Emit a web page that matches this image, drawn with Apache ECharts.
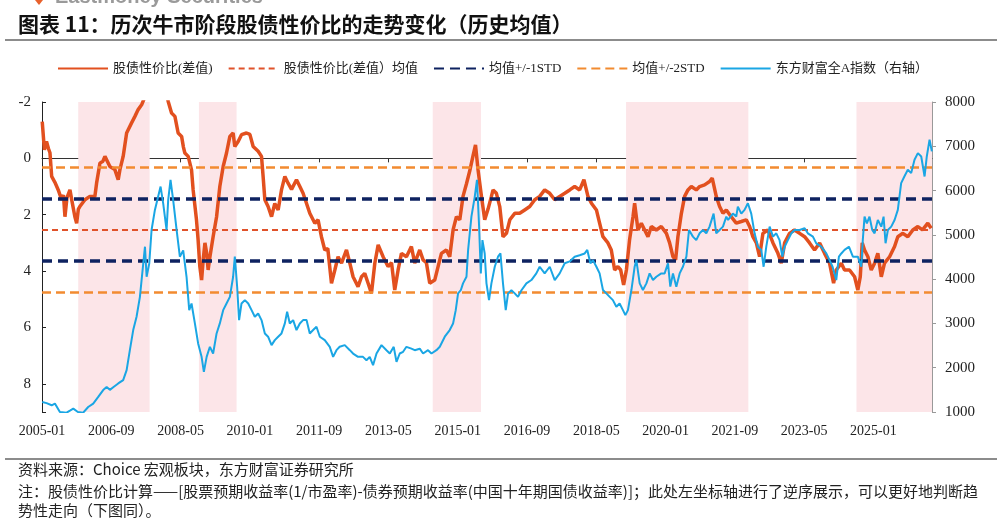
<!DOCTYPE html>
<html><head><meta charset="utf-8">
<script src="https://cdn.jsdelivr.net/npm/echarts@6/dist/echarts.min.js"></script>
<style>html,body{margin:0;padding:0;background:#fff}#c{width:997px;height:522px}</style>
</head><body><div id="c"></div>
<script>
// ---------- DATA ----------
const xTickStart = '2005-01';
const xAxisEndMonths = 256.9;           // axis extent in months from 2005-01
const leftAxisMin = -2, leftAxisMax = 9;
const rightAxisMin = 1000, rightAxisMax = 8000;

const ratioDates = ['2005-01-03','2005-01-22','2005-02-10','2005-02-27','2005-03-10','2005-03-25','2005-04-23','2005-05-22','2005-06-21','2005-07-07','2005-07-20','2005-08-07','2005-09-03','2005-09-20','2005-10-16','2005-11-01','2005-11-16','2005-11-29','2006-01-13','2006-02-26','2006-04-09','2006-04-24','2006-05-23','2006-06-19','2006-07-06','2006-07-23','2006-08-19','2006-10-02','2006-11-01','2006-11-16','2006-12-14','2007-01-14','2007-02-26','2007-03-26','2007-04-24','2007-05-24','2007-06-14','2007-08-06','2007-09-28','2007-11-20','2007-12-25','2008-01-14','2008-02-13','2008-03-12','2008-04-10','2008-05-10','2008-05-26','2008-06-08','2008-07-07','2008-08-06','2008-08-20','2008-09-19','2008-10-03','2008-10-18','2008-11-03','2008-11-17','2008-12-02','2008-12-17','2008-12-30','2009-01-15','2009-02-13','2009-03-13','2009-04-11','2009-05-10','2009-06-09','2009-07-08','2009-08-06','2009-08-21','2009-09-20','2009-10-19','2009-12-02','2010-01-01','2010-01-30','2010-03-13','2010-04-12','2010-04-26','2010-05-11','2010-06-09','2010-07-09','2010-08-07','2010-09-06','2010-10-05','2010-11-04','2010-12-02','2011-01-02','2011-02-15','2011-03-14','2011-04-12','2011-05-12','2011-06-10','2011-07-24','2011-08-22','2011-09-21','2011-10-20','2011-11-16','2011-12-18','2012-01-17','2012-02-15','2012-03-15','2012-04-28','2012-05-27','2012-06-25','2012-08-08','2012-09-08','2012-10-06','2012-11-05','2012-12-04','2013-01-03','2013-02-02','2013-03-15','2013-04-28','2013-05-28','2013-06-26','2013-07-25','2013-08-24','2013-10-07','2013-11-20','2013-12-19','2014-02-02','2014-03-01','2014-03-30','2014-04-29','2014-06-12','2014-07-11','2014-08-10','2014-09-23','2014-10-22','2014-11-21','2014-12-20','2015-01-19','2015-02-17','2015-03-17','2015-04-15','2015-05-14','2015-06-05','2015-06-27','2015-07-27','2015-08-25','2015-09-24','2015-10-23','2015-11-07','2015-12-06','2016-01-05','2016-02-03','2016-03-03','2016-04-02','2016-05-15','2016-06-28','2016-08-11','2016-09-25','2016-11-08','2016-12-21','2017-02-04','2017-03-18','2017-05-01','2017-06-14','2017-07-28','2017-09-11','2017-10-24','2017-12-07','2018-01-14','2018-02-19','2018-03-19','2018-05-02','2018-05-30','2018-06-29','2018-08-12','2018-09-11','2018-10-10','2018-11-08','2018-12-02','2018-12-28','2019-01-22','2019-02-19','2019-03-19','2019-04-03','2019-05-02','2019-06-01','2019-06-30','2019-07-29','2019-08-28','2019-10-11','2019-11-24','2020-01-08','2020-02-06','2020-03-05','2020-03-28','2020-04-18','2020-05-18','2020-06-16','2020-07-15','2020-08-14','2020-09-27','2020-10-26','2020-12-09','2021-01-22','2021-02-15','2021-03-20','2021-04-19','2021-05-18','2021-06-17','2021-07-30','2021-09-13','2021-10-27','2021-12-10','2022-01-09','2022-02-07','2022-03-07','2022-04-05','2022-05-04','2022-06-17','2022-08-01','2022-09-14','2022-10-13','2022-11-12','2022-12-25','2023-02-08','2023-03-22','2023-05-05','2023-06-18','2023-08-01','2023-09-15','2023-10-28','2023-12-11','2024-01-16','2024-02-09','2024-03-23','2024-04-21','2024-06-04','2024-07-18','2024-08-16','2024-09-07','2024-09-24','2024-10-14','2024-11-13','2024-12-12','2025-01-11','2025-02-09','2025-03-09','2025-04-07','2025-05-21','2025-07-04','2025-08-02','2025-09-16','2025-10-29','2025-12-12','2026-01-26','2026-03-06','2026-04-22','2026-05-21'];
const ratioValues = [-1.3,-0.3,-0.6,-0.35,-0.2,0.64,0.85,1.12,1.47,1.3,2.07,1.4,1.12,1.5,2.07,2.3,1.8,1.71,1.47,1.35,1.35,0.88,0.17,0.1,-0.07,-0.1,0.29,0.4,0.76,0.4,-0.07,-0.9,-1.25,-1.49,-1.73,-1.9,-2.1,-2.8,-3.2,-2.9,-2.4,-2.02,-1.61,-1.49,-0.9,-0.78,-0.4,-0.19,-0.07,0.41,1.12,2.18,2.9,3.84,4.32,3.6,3.0,3.36,3.96,3.5,2.78,2.07,1.0,0.29,-0.19,-0.78,-0.9,-0.42,-0.6,-0.84,-0.9,-0.85,-0.42,-0.25,-0.07,0.64,1.47,1.71,2.07,1.6,1.83,1.12,0.64,0.88,1.1,0.76,1.0,1.24,1.6,1.95,2.3,2.18,2.78,3.25,3.2,4.43,3.96,3.49,3.72,3.25,3.72,4.2,4.55,4.2,4.08,4.43,4.79,3.72,3.07,3.49,3.84,3.7,4.67,3.96,3.37,3.49,3.13,3.72,3.25,3.6,3.7,4.43,4.32,3.84,3.37,3.25,3.49,2.54,2.07,2.18,1.35,0.9,0.45,-0.1,-0.48,0.4,1.35,2.18,1.8,1.35,1.12,1.24,1.71,2.78,2.66,2.18,1.95,1.95,1.83,1.71,1.47,1.35,1.12,1.24,1.47,1.35,1.24,1.12,1.0,1.12,0.76,1.35,1.59,1.83,2.3,2.78,3.0,3.25,3.96,3.84,3.96,4.49,3.96,2.9,2.07,1.59,2.54,2.3,2.54,2.78,2.42,2.54,2.42,2.66,3.0,3.49,3.6,2.78,1.95,1.35,1.12,1.0,1.12,1.0,0.94,0.82,0.7,1.35,1.71,1.95,1.83,2.07,2.3,2.24,2.18,2.42,2.78,3.0,3.49,2.66,2.54,3.0,3.37,3.72,3.0,2.66,2.54,2.66,2.78,3.0,3.25,3.0,3.37,3.72,4.43,3.96,3.72,3.96,3.96,4.2,4.67,4.2,3.0,3.25,3.49,3.96,3.72,3.37,4.2,3.72,3.49,3.13,2.78,2.66,2.78,2.54,2.42,2.54,2.3,2.48];

const indexDates = ['2005-01-03','2005-02-11','2005-03-25','2005-04-23','2005-06-06','2005-08-04','2005-09-03','2005-10-02','2005-11-12','2005-12-28','2006-02-11','2006-03-25','2006-05-08','2006-06-21','2006-07-21','2006-08-19','2006-09-18','2006-11-01','2006-12-14','2007-01-14','2007-02-12','2007-03-11','2007-04-10','2007-05-09','2007-06-08','2007-06-23','2007-07-07','2007-07-30','2007-08-20','2007-09-19','2007-10-17','2007-11-08','2007-12-01','2007-12-30','2008-01-14','2008-02-04','2008-02-27','2008-03-27','2008-04-25','2008-05-24','2008-06-23','2008-07-16','2008-08-06','2008-09-05','2008-10-03','2008-11-03','2008-11-23','2008-12-17','2009-01-15','2009-02-13','2009-03-13','2009-04-11','2009-05-10','2009-06-09','2009-07-08','2009-08-06','2009-08-21','2009-09-11','2009-09-28','2009-10-19','2009-11-18','2009-12-17','2010-01-16','2010-02-14','2010-03-13','2010-04-12','2010-05-11','2010-06-09','2010-07-09','2010-08-07','2010-09-06','2010-10-05','2010-11-04','2010-11-24','2010-12-17','2011-01-16','2011-02-15','2011-03-14','2011-04-12','2011-05-12','2011-06-10','2011-07-09','2011-08-08','2011-09-07','2011-10-20','2011-12-03','2012-01-02','2012-02-01','2012-02-29','2012-04-13','2012-05-27','2012-06-25','2012-08-08','2012-09-21','2012-10-21','2012-11-19','2012-12-18','2013-01-18','2013-03-01','2013-04-14','2013-05-13','2013-06-17','2013-07-11','2013-08-09','2013-09-08','2013-10-07','2013-11-20','2013-12-19','2014-02-02','2014-03-01','2014-04-14','2014-05-14','2014-06-27','2014-07-26','2014-09-09','2014-10-22','2014-11-21','2014-12-14','2015-01-04','2015-01-28','2015-02-17','2015-03-17','2015-04-01','2015-04-30','2015-05-29','2015-06-18','2015-07-06','2015-07-21','2015-08-05','2015-08-25','2015-09-10','2015-10-02','2015-10-23','2015-11-22','2015-12-20','2016-01-11','2016-02-03','2016-02-27','2016-03-17','2016-04-16','2016-05-15','2016-06-13','2016-07-13','2016-08-26','2016-10-09','2016-11-22','2016-12-21','2017-02-04','2017-03-18','2017-05-01','2017-06-14','2017-07-28','2017-09-11','2017-10-24','2017-12-07','2018-01-21','2018-02-13','2018-03-10','2018-04-02','2018-05-02','2018-05-30','2018-06-29','2018-07-28','2018-08-27','2018-09-25','2018-10-25','2018-11-23','2018-12-22','2019-01-13','2019-02-05','2019-03-05','2019-04-03','2019-04-18','2019-05-17','2019-06-15','2019-07-15','2019-08-13','2019-09-12','2019-10-11','2019-11-24','2019-12-23','2020-01-22','2020-02-12','2020-03-05','2020-04-04','2020-05-03','2020-06-01','2020-07-01','2020-07-24','2020-08-28','2020-09-27','2020-10-26','2020-11-25','2020-12-24','2021-01-22','2021-02-27','2021-03-20','2021-04-19','2021-05-18','2021-06-17','2021-07-02','2021-08-14','2021-09-13','2021-09-27','2021-10-27','2021-11-25','2021-12-24','2022-01-23','2022-02-22','2022-03-21','2022-04-20','2022-05-10','2022-06-03','2022-07-02','2022-08-01','2022-08-30','2022-09-28','2022-10-22','2022-11-12','2022-12-10','2023-01-10','2023-02-08','2023-03-22','2023-05-05','2023-06-03','2023-07-17','2023-08-16','2023-09-29','2023-11-13','2023-12-11','2024-01-07','2024-02-09','2024-03-02','2024-03-23','2024-04-21','2024-05-29','2024-07-03','2024-08-16','2024-09-16','2024-09-29','2024-10-14','2024-11-04','2024-11-27','2024-12-21','2025-01-11','2025-02-09','2025-03-09','2025-03-29','2025-04-16','2025-05-06','2025-06-05','2025-07-04','2025-08-02','2025-09-01','2025-09-29','2025-10-29','2025-11-28','2025-12-27','2026-01-26','2026-02-25','2026-03-24','2026-04-13','2026-05-07','2026-05-27'];
const indexValues = [1227,1200,1152,1190,1000,985,1030,1077,1000,985,1113,1190,1340,1495,1566,1500,1560,1645,1720,1945,2396,2850,3150,3600,4358,4733,4054,4350,5110,5563,5864,6090,5700,5110,5790,6242,5790,5110,4507,4650,4054,3300,3450,3000,2548,2245,1905,2245,2472,2320,2774,3000,3300,3451,3600,4054,4507,3828,3075,3451,3527,3451,3300,3150,3225,3075,2774,2700,2510,2623,2700,2774,3000,3263,3000,3075,2850,3000,3075,3075,2774,2850,2925,2700,2623,2472,2245,2396,2472,2510,2396,2320,2245,2245,2170,2245,2057,2321,2510,2396,2321,2472,2132,2321,2360,2472,2430,2396,2430,2321,2396,2321,2396,2472,2700,2850,3000,3300,3679,3750,3905,4054,4660,5412,5864,6242,5200,4130,4880,4580,3905,3527,3905,4280,4507,4580,3905,3300,3679,3750,3679,3600,3750,3905,3980,4130,4280,4130,4280,3980,4130,4358,4400,4507,4540,4580,4660,4358,4430,4280,4130,3754,3679,3600,3527,3376,3451,3300,3188,3300,3754,4280,4430,3905,3754,3905,4130,3980,4054,4130,4130,4358,3830,4130,3830,4130,4280,4507,5110,4960,4880,5035,5110,5035,5185,5480,5035,5110,5185,5412,5337,5480,5412,5638,5480,5563,5714,5480,5035,4733,4660,4280,4733,5185,4960,5035,4880,4507,4733,4880,5035,5110,5110,5150,5035,4960,4807,4733,4580,4430,4280,3980,4507,4580,4660,4733,4507,4507,4280,4880,5412,5260,5412,5110,5035,5337,5185,5412,4810,5110,5185,5337,5563,6167,6318,6469,6394,6695,6846,6770,6318,6770,7150,6885];

const meanLevel = 2.54;
const std1Levels = [1.44, 3.65];
const std2Levels = [0.32, 4.75];

const bullStarts = ['2005-11-15','2008-10-10','2014-05-25','2019-01-19','2024-08-04'];
const bullEnds   = ['2007-08-03','2009-09-06','2015-07-23','2021-12-28', null];

const seriesNames = ['股债性价比(差值)','股债性价比(差值）均值','均值+/-1STD','均值+/-2STD','东方财富全A指数（右轴）'];

// ---------- HELPERS ----------
const [y0, m0] = xTickStart.split('-').map(Number);
function toMonth(s){ const p = s.split('-').map(Number); return (p[0]-y0)*12 + (p[1]-m0) + (p[2]-1)/30.4; }
function monthLabel(v){ const tot = Math.round(v) + (m0-1); const y = y0 + Math.floor(tot/12); const m = tot%12 + 1; return y + '-' + (m<10?'0':'') + m; }

const ratioData = ratioDates.map((d,i)=>[toMonth(d), ratioValues[i]]);
const indexData = indexDates.map((d,i)=>[toMonth(d), indexValues[i]]);
const bullAreas = bullStarts.map((s,i)=>[{xAxis: toMonth(s)}, {xAxis: bullEnds[i] ? toMonth(bullEnds[i]) : xAxisEndMonths}]);

const C_RED = '#E2501F', C_MEAN = '#E0522A', C_NAVY = '#0E2260', C_ORANGE = '#F28B30', C_BLUE = '#1AA6E4';
const SERIF = "'Liberation Serif','Times New Roman','Noto Sans CJK SC'";

const chart = echarts.init(document.getElementById('c'), null, {renderer:'canvas'});
chart.setOption({
  backgroundColor: '#fff',
  animation: false,
  grid: { left: 42, right: 65, top: 102, bottom: 110, containLabel: false },
  legend: {
    data: seriesNames, left: 52, top: 57, itemWidth: 50, itemHeight: 14, itemGap: 15,
    itemStyle: { opacity: 0 },
    textStyle: { fontFamily: SERIF, fontSize: 13, color: '#222' }
  },
  xAxis: {
    type: 'value', min: 0, max: xAxisEndMonths, interval: 20,
    axisLine: { lineStyle: { color: '#333', width: 1 } },
    axisTick: { show: true, inside: false, length: 4, lineStyle: { color: '#333' } },
    axisLabel: { margin: 12, fontFamily: SERIF, fontSize: 14, color: '#222', showMaxLabel: false,
      formatter: v => (Math.abs(v % 20) < 1e-6 ? monthLabel(v) : '') },
    splitLine: { show: false }
  },
  yAxis: [
    { type: 'value', inverse: true, min: leftAxisMin, max: leftAxisMax, interval: 2, position: 'left',
      axisLine: { show: true, lineStyle: { color: '#222' } },
      axisTick: { show: true, inside: true, length: 4, lineStyle: { color: '#222' } },
      axisLabel: { margin: 11, fontFamily: SERIF, fontSize: 15, color: '#222',
        formatter: v => (v === leftAxisMax ? '' : String(v)) },
      splitLine: { show: false } },
    { type: 'value', min: rightAxisMin, max: rightAxisMax, interval: 1000, position: 'right',
      axisLine: { show: true, lineStyle: { color: '#999' } },
      axisTick: { show: true, inside: false, length: 4, lineStyle: { color: '#999' } },
      axisLabel: { margin: 13, fontFamily: SERIF, fontSize: 15, color: '#222', formatter: v => String(v) },
      splitLine: { show: false } }
  ],
  series: [
    { name: 'bull', type: 'line', data: [], silent: true, z: 0,
      markArea: { silent: true, itemStyle: { color: '#FCE5E8' }, data: bullAreas } },
    { name: seriesNames[0], type: 'line', yAxisIndex: 0, data: ratioData, showSymbol: false, symbol: 'none',
      clip: true, z: 3, lineStyle: { color: C_RED, width: 3.5 }, itemStyle: { color: C_RED } },
    { name: seriesNames[1], type: 'line', yAxisIndex: 0, data: [], symbol: 'none', z: 4,
      lineStyle: { color: C_MEAN, width: 2, type: [6, 4] }, itemStyle: { color: C_MEAN },
      markLine: { silent: true, symbol: 'none', label: { show: false },
        lineStyle: { color: C_MEAN, width: 2, type: [6, 4] }, data: [{ yAxis: meanLevel }] } },
    { name: seriesNames[2], type: 'line', yAxisIndex: 0, data: [], symbol: 'none', z: 4,
      lineStyle: { color: C_NAVY, width: 3.5, type: [10, 6] }, itemStyle: { color: C_NAVY },
      markLine: { silent: true, symbol: 'none', label: { show: false },
        lineStyle: { color: C_NAVY, width: 3.5, type: [10, 6] }, data: std1Levels.map(v => ({ yAxis: v })) } },
    { name: seriesNames[3], type: 'line', yAxisIndex: 0, data: [], symbol: 'none', z: 4,
      lineStyle: { color: C_ORANGE, width: 2.5, type: [9, 5] }, itemStyle: { color: C_ORANGE },
      markLine: { silent: true, symbol: 'none', label: { show: false },
        lineStyle: { color: C_ORANGE, width: 2.5, type: [9, 5] }, data: std2Levels.map(v => ({ yAxis: v })) } },
    { name: seriesNames[4], type: 'line', yAxisIndex: 1, data: indexData, showSymbol: false, symbol: 'none',
      clip: true, z: 5, lineStyle: { color: C_BLUE, width: 2 }, itemStyle: { color: C_BLUE } }
  ],
  graphic: [
    { type: 'polygon', shape: { points: [[35,0],[43,0],[39,5]] }, style: { fill: '#E8612C' } },
    { type: 'text', left: 55, top: -13, style: { text: 'Eastmoney Securities', fill: '#9a9a9a',
        font: "bold 20px 'Liberation Sans', Arial, sans-serif" } },
    { type: 'text', left: 18, top: 14, style: { text: '图表 11：历次牛市阶段股债性价比的走势变化（历史均值）', fill: '#111',
        font: "bold 21px 'Noto Sans CJK SC', sans-serif" } },
    { type: 'line', shape: { x1: 5, y1: 40, x2: 997, y2: 40 }, style: { stroke: '#8c8c8c', lineWidth: 2 } },
    { type: 'line', shape: { x1: 5, y1: 459, x2: 997, y2: 459 }, style: { stroke: '#8c8c8c', lineWidth: 2 } },
    { type: 'text', left: 18, top: 462, style: { text: '资料来源：Choice 宏观板块，东方财富证券研究所', fill: '#222',
        font: "15px 'Noto Sans CJK SC', sans-serif" } },
    { type: 'text', left: 18, top: 484, style: { text: '注：股债性价比计算——[股票预期收益率(1/市盈率)-债券预期收益率(中国十年期国债收益率)]；此处左坐标轴进行了逆序展示，可以更好地判断趋', fill: '#222',
        font: "15px 'Noto Sans CJK SC', sans-serif" } },
    { type: 'text', left: 18, top: 503, style: { text: '势性走向（下图同）。', fill: '#222',
        font: "15px 'Noto Sans CJK SC', sans-serif" } }
  ]
});
</script>
</body></html>
